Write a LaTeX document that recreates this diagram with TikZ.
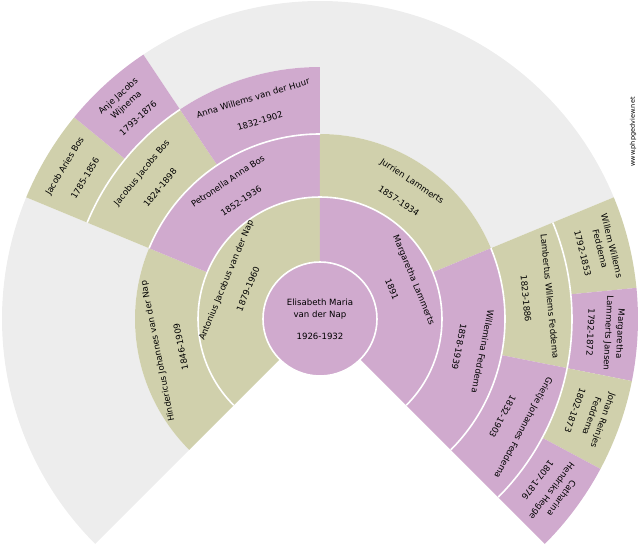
\documentclass[tikz,border=0pt]{standalone}
\usepackage{fontspec}
\setmainfont{DejaVu Sans}
\usepackage{xcolor}
\usepackage{tikz}

\definecolor{rose}{HTML}{D0AACE}
\definecolor{olive}{HTML}{D0D0AC}
\definecolor{empty}{HTML}{EDEDED}

% one cell of the fan: start angle, end angle, inner radius, outer radius, colour
\newcommand{\fancell}[5]{%
  \fill[#5] (#1:#3) arc[start angle=#1, end angle=#2, radius=#3] -- (#2:#4)
    arc[start angle=#2, end angle=#1, radius=#4] -- cycle;}
% white rim on the inner side of a cell
\newcommand{\rim}[3]{%
  \draw[sep] (#1:#3) arc[start angle=#1, end angle=#2, radius=#3];}

\begin{document}
\begin{tikzpicture}[x=1pt, y=1pt, sep/.style={white, line width=1.6pt},
  lbl/.style={align=center, font=\fontsize{8.6}{12}\selectfont, inner sep=0pt},
  small/.style={align=center, font=\fontsize{6.5}{8}\selectfont, inner sep=0pt}]
\useasboundingbox (-320,-231) rectangle (320,319);
% empty slots
\fancell{157.5}{225}{185}{318}{empty}
\fancell{22.5}{90}{185}{318}{empty}
\fancell{90}{123.75}{252}{318}{empty}
% generation 1
\fancell{90}{225}{57}{122}{olive}
\fancell{-45}{90}{57}{122}{rose}
% generation 2
\fancell{157.5}{225}{122}{185}{olive}
\fancell{90}{157.5}{122}{185}{rose}
\fancell{22.5}{90}{122}{185}{olive}
\fancell{-45}{22.5}{122}{185}{rose}
% generation 3
\fancell{123.75}{157.5}{185}{252}{olive}
\fancell{90}{123.75}{185}{252}{rose}
\fancell{-11.25}{22.5}{185}{252}{olive}
\fancell{-45}{-11.25}{185}{252}{rose}
% generation 4
\fancell{140.625}{157.5}{252}{318}{olive}
\fancell{123.75}{140.625}{252}{318}{rose}
\fancell{5.625}{22.5}{252}{318}{olive}
\fancell{-11.25}{5.625}{252}{318}{rose}
\fancell{-28.125}{-11.25}{252}{318}{olive}
\fancell{-45}{-28.125}{252}{318}{rose}
% rims
\fill[rose] (0,0) circle[radius=57];
\draw[sep] (0,0) circle[radius=57];
\rim{-45}{225}{122}
\rim{90}{157.5}{185}
\rim{-45}{22.5}{185}
\rim{123.75}{157.5}{252}
\rim{-45}{22.5}{252}

\node[lbl] (root) at (0,0) {Elisabeth Maria\\van der Nap\\[10pt]1926-1932};
\node[lbl, rotate=67.5] (antonius) at (157.5:90) {Antonius Jacobus van der Nap\\[12pt]1879-1960};
\node[lbl, rotate=-67.5] (margaretha) at (22.5:90) {Margaretha Lammerts\\[12pt]1891};
\node[lbl, rotate=101.25] (hindericus) at (191.25:154) {Hindericus Johannes van der Nap\\[12pt]1846-1909};
\node[lbl, rotate=33.75] (petronella) at (123.75:154) {Petronella Anna Bos\\[12pt]1852-1936};
\node[lbl, rotate=-33.75] (jurrien) at (56.25:154) {Jurrien Lammerts\\[12pt]1857-1934};
\node[lbl, rotate=-101.25] (willemina) at (-11.25:154) {Willemina Feddema\\[12pt]1858-1939};
\node[lbl, rotate=50.625] (jacobus) at (140.625:219) {Jacobus Jacobs Bos\\[12pt]1824-1898};
\node[lbl, rotate=16.875] (anna) at (106.875:219) {Anna Willems van der Huur\\[12pt]1832-1902};
\node[lbl, rotate=-84.375] (lambertus) at (5.625:219) {Lambertus Willems Feddema\\[12pt]1823-1886};
\node[lbl, rotate=-118.125] (grietje) at (-28.125:219) {Grietje Johannes Feddema\\[12pt]1832-1903};
\node[lbl, rotate=59.06] (jacob) at (149.06:286) {Jacob Aries Bos\\[12pt]1785-1856};
\node[lbl, rotate=42.19] (anje) at (132.19:286) {Anje Jacobs\\Wijnema\\[6pt]1793-1876};
\node[lbl, rotate=-75.94] (willem) at (14.06:286) {Willem Willems\\Feddema\\[6pt]1792-1853};
\node[lbl, rotate=-92.81] (margaretha2) at (-2.81:286) {Margaretha\\Lammerts Jansen\\[6pt]1792-1872};
\node[lbl, rotate=-109.69] (johan) at (-19.69:286) {Johan Reinjes\\Feddema\\[6pt]1802-1873};
\node[lbl, rotate=-126.56] (catharina) at (-36.56:286) {Catharina\\Hendriks Hegge\\[6pt]1807-1876};
\node[small, rotate=90] (site) at (313,187) {www.phpgedview.net};
\end{tikzpicture}
\end{document}
